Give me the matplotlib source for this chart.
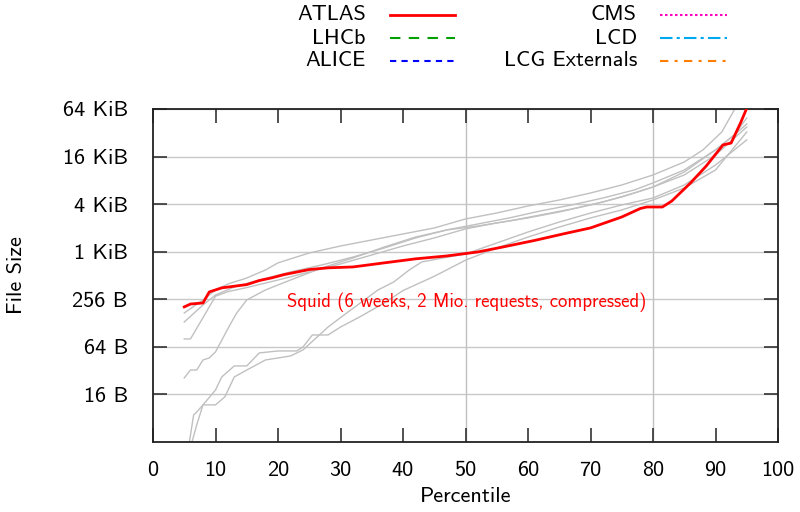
import matplotlib
matplotlib.use("Agg")
import matplotlib.pyplot as plt
from matplotlib.lines import Line2D
from matplotlib.ticker import FixedLocator, NullLocator

# ---------------- data (percentile -> file size in bytes) ----------------
atlas_p = [5, 6, 8, 9, 11, 15, 17, 19, 21, 25, 28, 32, 37, 42, 47, 52, 56, 61, 66,
           70, 75, 78, 79, 81.5, 83, 86, 88.5, 91.2, 92.5, 94, 95]
atlas_b = [205, 223, 230, 317, 357, 393, 442, 478, 526, 609, 640, 657, 740, 832, 905,
           1017, 1176, 1419, 1746, 2048, 2817, 3615, 3769, 3769, 4480, 7590, 12400,
           23000, 24300, 43600, 67000]

g1_p = [5, 8, 10, 12, 15, 18, 20, 25, 30, 35, 40, 45, 50, 55, 60, 65, 70, 75, 80, 85, 88, 91, 93]
g1_b = [172, 251, 336, 400, 476, 602, 740, 987, 1210, 1442, 1717, 2045, 2660, 3165, 3880,
        4620, 5670, 7160, 9580, 13990, 19900, 33500, 63700]

g2_p = [5, 8, 10, 13, 17, 22, 27, 32, 37, 42, 47, 52, 57, 62, 67, 72, 77, 80, 85, 90, 93, 95]
g2_b = [132, 217, 290, 366, 449, 568, 696, 877, 1140, 1530, 1930, 2300, 2740, 3360, 4000,
        4900, 6190, 7600, 11080, 19900, 30700, 42400]

g3_p = [5, 6, 8, 10, 12, 15, 20, 25, 30, 35, 40, 45, 50, 55, 60, 65, 70, 75, 80, 85, 90, 93, 95]
g3_b = [80.6, 80.6, 150, 280, 320, 360, 449, 568, 717, 931, 1210, 1530, 1990, 2370, 2740,
        3260, 4000, 5040, 6750, 10450, 19900, 30700, 50400]

g4_p = [5, 6, 7, 8, 9, 10, 12.3, 13.4, 15, 18, 22, 27, 32, 37, 42, 47, 52, 57, 62, 67, 72,
        77, 80, 85, 90, 95]
g4_b = [25.9, 32.6, 32.6, 43.7, 46.3, 55.2, 121, 172, 251, 336, 449, 638, 853, 1175, 1570,
        1930, 2170, 2510, 2990, 3560, 4360, 5670, 6750, 9580, 17150, 38800]

g5_p = [5.8, 6.5, 7, 8, 10, 11.5, 13, 15, 18, 22, 24, 28, 31, 36, 38.5, 41, 43, 47, 50,
        55, 60, 65, 70, 75, 80, 85, 90, 95]
g5_b = [3.9, 8.8, 9.6, 11.8, 11.8, 14.9, 26.6, 32.6, 43.7, 49.1, 58.5, 114, 172, 336, 423,
        602, 760, 870, 960, 1320, 1820, 2430, 3160, 4000, 4900, 7160, 12800, 26600]

g6_p = [6.2, 7, 8, 10, 11, 13, 15, 17, 20, 23, 24, 25.5, 28, 30, 33, 37, 40, 45, 50, 55,
        60, 65, 70, 75, 80, 85, 90, 95]
g6_b = [3.9, 6.6, 11.8, 18.2, 26.6, 36.7, 36.7, 53.6, 56.8, 56.8, 63.8, 90.5, 90.5, 114,
        152, 230, 330, 500, 800, 1140, 1570, 2100, 2740, 3460, 4620, 6560, 11080, 33500]

gray_series = [(g1_p, g1_b), (g2_p, g2_b), (g3_p, g3_b), (g4_p, g4_b), (g5_p, g5_b), (g6_p, g6_b)]

legend_labels = ["ATLAS", "LHCb", "ALICE", "CMS", "LCD", "LCG Externals"]
x_ticks = [0, 10, 20, 30, 40, 50, 60, 70, 80, 90, 100]
y_ticks = [16, 64, 256, 1024, 4096, 16384, 65536]
y_tick_labels = ["16 B", "64 B", "256 B", "1 KiB", "4 KiB", "16 KiB", "64 KiB"]
annotation = "Squid (6 weeks, 2 Mio. requests, compressed)"

# ---------------- figure ----------------
FONT = "cmss10"
plt.rcParams["font.family"] = [FONT, "DejaVu Sans"]
plt.rcParams["axes.unicode_minus"] = False
FS = 16

fig = plt.figure(figsize=(8, 5.12), dpi=100)
ax = fig.add_axes([153 / 800, 1 - 442 / 512, (778 - 153) / 800, (442 - 109) / 512])

ax.set_xlim(0, 100)
ax.set_yscale("log", base=2)
ax.set_ylim(4, 65536)

# grid
for yt in y_ticks:
    ax.axhline(yt, color="#c8c8c8", lw=1.0, zorder=1)
for xv in (50, 80):
    ax.axvline(xv, color="#c0c0c0", lw=1.0, zorder=1)

for p, b in gray_series:
    ax.plot(p, b, color="#c0c0c0", lw=1.0, zorder=2, clip_on=True)
ax.plot(atlas_p, atlas_b, color="#ff0000", lw=2.0, zorder=3, clip_on=True)

ax.text(50.2, 232, annotation, color="#ff0000", fontsize=13.5, ha="center", va="center",
        zorder=4)

ax.xaxis.set_major_locator(FixedLocator(x_ticks))
ax.set_xticklabels([str(v) for v in x_ticks])
ax.yaxis.set_major_locator(FixedLocator(y_ticks))
ax.yaxis.set_minor_locator(NullLocator())
ax.set_yticklabels(y_tick_labels)
ax.tick_params(axis="both", which="major", direction="in", length=10, width=1.2,
               top=True, right=True, labelsize=FS, color="#333333")
ax.tick_params(axis="x", pad=14)
ax.tick_params(axis="y", pad=18)
for s in ax.spines.values():
    s.set_linewidth(1.3)
    s.set_color("#222222")

ax.set_xlabel("Percentile", fontsize=FS)
ax.set_ylabel("File Size", fontsize=FS)
ax.xaxis.set_label_coords(0.5, -(497 - 442) / 333)
ax.yaxis.set_label_coords(-(153 - 17) / 625, (442 - 275) / 333)
ax.xaxis.label.set_va("center")
ax.yaxis.label.set_va("center")

# legend (gnuplot style, labels right aligned before the samples)
styles = [
    dict(color="#ff0000", ls="-", lw=2.0),
    dict(color="#00a000", ls=(0, (5, 4)), lw=1.5),
    dict(color="#0000ff", ls=(0, (3, 2.5)), lw=1.5),
    dict(color="#ff00c0", ls=(0, (1.2, 1.2)), lw=1.5),
    dict(color="#00a8f0", ls=(0, (6, 2, 1.5, 2)), lw=1.5),
    dict(color="#ff8000", ls=(0, (4, 3, 1.5, 3)), lw=1.5),
]
rows_y = [15, 38, 61]
col_label_x = [366, 637]
col_line = [(390, 455), (660, 727)]
for i, (lab, st) in enumerate(zip(legend_labels, styles)):
    col = 0 if i < 3 else 1
    row = i % 3
    yf = 1 - rows_y[row] / 512
    fig.text(col_label_x[col] / 800, yf, lab, ha="right", va="center", fontsize=FS)
    x0, x1 = col_line[col]
    fig.add_artist(Line2D([x0 / 800, x1 / 800], [yf, yf], transform=fig.transFigure, **st))

fig.savefig("out.png", dpi=100)
